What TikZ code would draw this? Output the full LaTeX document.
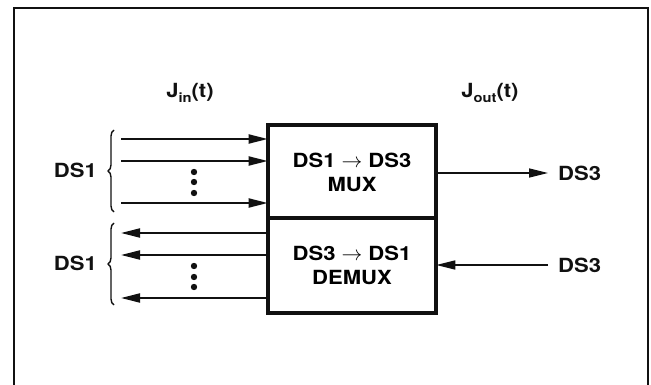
\documentclass[tikz,border=0pt]{standalone}
\usepackage{fontspec}
\setmainfont[FakeStretch=1.13]{TeX Gyre Heros}
\usepackage{tikz}
\usetikzlibrary{arrows.meta,calc,positioning,decorations.pathreplacing}
\definecolor{inkblack}{HTML}{111111}
\newcommand{\lbl}{\fontsize{19.5}{24}\selectfont\bfseries}
\newcommand{\rsub}[1]{\raisebox{-0.45ex}{\fontsize{13}{13}\selectfont\bfseries #1}}
\tikzset{
  frame line/.style   = {inkblack, line width=1.8pt},
  mux block/.style    = {draw=inkblack, line width=2.6pt, minimum width=166pt,
                         inner sep=0pt, align=center, font=\lbl},
  signal/.style       = {inkblack, line width=1.9pt,
                         -{Triangle[length=19pt, width=9pt]}},
  thin signal/.style  = {signal, line width=1.5pt},
  bundle brace/.style = {inkblack, line width=1.4pt, decorate,
                         decoration={brace, amplitude=6pt}},
  rate label/.style   = {font=\lbl, inner sep=0pt, text=inkblack},
  ds3 label/.style    = {rate label, anchor=west, inner xsep=10pt},
  bundle dot/.style   = {fill=inkblack},
}

\begin{document}
\begin{tikzpicture}[x=1pt, y=-1pt]
  \useasboundingbox (0,0) rectangle (651,385);
  \draw[frame line] (14,390) -- (14,8) -- (648,8) -- (648,390);

  % the two halves of the terminal
  \node[mux block, minimum height=93pt] (mux) at (352,172)
    {DS1 $\rightarrow$ DS3\\MUX};
  \node[mux block, minimum height=95pt] (demux) at (352,265)
    {DS3 $\rightarrow$ DS1\\DEMUX};
  \draw[inkblack, line width=2.6pt] (mux.north west) rectangle (demux.south east);

  \node[rate label] (jin) at (190,93) {J\rsub{in}(t)};
  \node[rate label] (jout) at (490,93) {J\rsub{out}(t)};

  % DS1 side
  \node[rate label, anchor=east] (ds1 up) at (97,170) {DS1};
  \node[rate label, anchor=east] (ds1 down) at (97,263) {DS1};
  \draw[bundle brace] (114,212) -- (114,130);
  \draw[bundle brace] (114,305) -- (114,223);

  \coordinate (in1) at (121,139);
  \coordinate (in2) at (121,161);
  \coordinate (in3) at (121,203);
  \foreach \c in {in1,in2,in3}
    \draw[signal] (\c) -- (\c -| mux.west);

  \coordinate (out1) at (121,233);
  \coordinate (out2) at (121,255);
  \coordinate (out3) at (121,298);
  \foreach \c in {out1,out2,out3}
    \draw[signal] (\c -| demux.west) -- (\c);

  \foreach \y in {172,182,193,266,277,287}
    \fill[bundle dot] (194,\y) circle (3.2pt);

  % DS3 side
  \node[ds3 label] (ds3 out) at (548,173) {DS3};
  \node[ds3 label] (ds3 in) at (548,265) {DS3};
  \draw[thin signal] (mux.east |- ds3 out) -- (ds3 out.west);
  \draw[thin signal] (ds3 in.west) -- (demux.east |- ds3 in);
\end{tikzpicture}
\end{document}
